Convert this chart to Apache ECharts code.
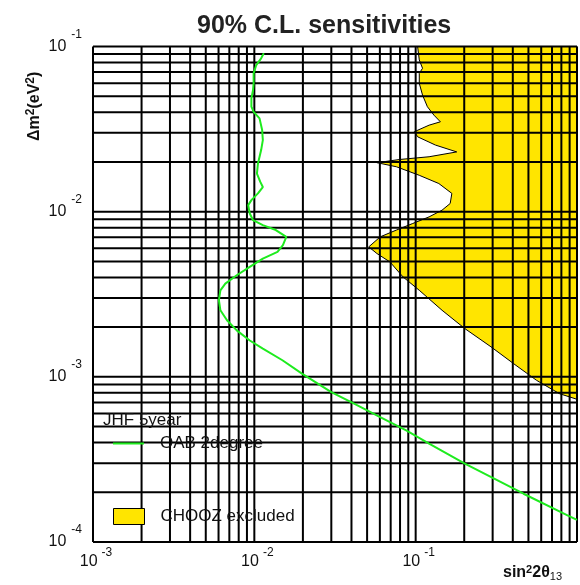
<!DOCTYPE html>
<html>
<head>
<meta charset="utf-8">
<script src="https://cdn.jsdelivr.net/npm/echarts@6/dist/echarts.min.js"></script>
<style>
  html, body { margin: 0; padding: 0; background: #fff; }
  #chart { width: 580px; height: 585px; }
</style>
</head>
<body>
<div id="chart"></div>
<script>
// JHF 5-year sensitivity, off-axis beam at 2 degrees (sin^2 2theta13 vs dm^2 in eV^2)
const jhfSin2 = [0.01145, 0.01102, 0.01028, 0.00990, 0.00990, 0.00982, 0.00959, 0.00959, 0.00990, 0.01077,
                 0.01118, 0.01129, 0.01102, 0.01053, 0.01038, 0.01087, 0.01129, 0.01053, 0.00959, 0.00916,
                 0.00937, 0.00982, 0.01129, 0.01359, 0.01578, 0.01504, 0.01392, 0.01129, 0.00937, 0.00778,
                 0.00661, 0.00616, 0.00603, 0.00616, 0.00677, 0.00778, 0.00937, 0.01129, 0.01493, 0.01973,
                 0.02999, 0.04152, 0.06026, 0.08735, 0.1211, 0.2017, 0.3067, 0.4662, 0.8734, 1.0];
const jhfDm2  = [0.0910, 0.0848, 0.0772, 0.0688, 0.0598, 0.0545, 0.0485, 0.0432, 0.0402, 0.0367,
                 0.0312, 0.0271, 0.0236, 0.0196, 0.0170, 0.0152, 0.0141, 0.0129, 0.01174, 0.01095,
                 0.00975, 0.00888, 0.00829, 0.00774, 0.00704, 0.00627, 0.00571, 0.00520, 0.00463, 0.00412,
                 0.00367, 0.00334, 0.00291, 0.00253, 0.00220, 0.00191, 0.00166, 0.00148, 0.00126, 0.001046,
                 0.000809, 0.000688, 0.000571, 0.000474, 0.000394, 0.000298, 0.000242, 0.000196, 0.000145, 0.000136];

// CHOOZ exclusion contour, from the top of the plot downwards
const choozSin2 = [0.1028, 0.1053, 0.1103, 0.1053, 0.1053, 0.1103, 0.1182, 0.1298, 0.1423, 0.1211,
                   0.0982, 0.1028, 0.1327, 0.1797, 0.1211, 0.0796, 0.0575, 0.0760, 0.1053, 0.1392,
                   0.1676, 0.1637, 0.1457, 0.1211, 0.0959, 0.0760, 0.0603, 0.0512, 0.0575, 0.0693,
                   0.0834, 0.1053, 0.1457, 0.2017, 0.2929, 0.4055, 0.5620, 0.7780, 1.0];
const choozDm2  = [0.1, 0.0829, 0.0738, 0.0688, 0.0598, 0.0508, 0.0432, 0.0384, 0.0350, 0.0334,
                   0.0305, 0.0284, 0.0253, 0.0230, 0.0215, 0.0207, 0.0198, 0.0187, 0.0166, 0.0148,
                   0.0129, 0.01121, 0.01021, 0.00930, 0.00848, 0.00774, 0.00704, 0.00612, 0.00558, 0.00496,
                   0.00403, 0.00334, 0.00253, 0.00196, 0.00152, 0.00120, 0.000952, 0.000791, 0.000731];

// Axis ranges
const sin2Range = [0.001, 1];
const dm2Range = [0.0001, 0.1];

// Grid lines at every 1..9 x 10^n
const sin2Grid = [0.001, 0.002, 0.003, 0.004, 0.005, 0.006, 0.007, 0.008, 0.009,
                  0.01, 0.02, 0.03, 0.04, 0.05, 0.06, 0.07, 0.08, 0.09,
                  0.1, 0.2, 0.3, 0.4, 0.5, 0.6, 0.7, 0.8, 0.9, 1];
const dm2Grid  = [0.0001, 0.0002, 0.0003, 0.0004, 0.0005, 0.0006, 0.0007, 0.0008, 0.0009,
                  0.001, 0.002, 0.003, 0.004, 0.005, 0.006, 0.007, 0.008, 0.009,
                  0.01, 0.02, 0.03, 0.04, 0.05, 0.06, 0.07, 0.08, 0.09, 0.1];

const FONT = 'Liberation Sans, Arial, sans-serif';
const YELLOW = '#FFE500';
const GREEN = '#1EEB1E';
const GRID_LINE = { stroke: '#000', lineWidth: 2 };

function powerLabel(v) {
  const e = Math.round(Math.log10(v));
  if (e === 0) return '';
  return '{b|10}{e|' + e + '}';
}

// one straight grid line per data item, spanning the whole plot
function verticalGridLine(params, api) {
  const x = api.value(0);
  const p0 = api.coord([x, dm2Range[0]]);
  const p1 = api.coord([x, dm2Range[1]]);
  return { type: 'line', shape: { x1: p0[0], y1: p0[1], x2: p1[0], y2: p1[1] }, style: GRID_LINE };
}
function horizontalGridLine(params, api) {
  const y = api.value(1);
  const p0 = api.coord([sin2Range[0], y]);
  const p1 = api.coord([sin2Range[1], y]);
  return { type: 'line', shape: { x1: p0[0], y1: p0[1], x2: p1[0], y2: p1[1] }, style: GRID_LINE };
}

const chart = echarts.init(document.getElementById('chart'), null, { renderer: 'canvas' });

chart.setOption({
  animation: false,
  backgroundColor: '#fff',
  textStyle: { fontFamily: FONT },
  title: [
    {
      text: '90% C.L. sensitivities',
      left: 197, top: 14, padding: 0,
      textStyle: { fontSize: 25, fontWeight: 'bold', color: '#222', fontFamily: FONT }
    },
    {
      text: 'JHF 5year',
      left: 103, top: 412, padding: 0,
      textStyle: { fontSize: 17, fontWeight: 'normal', color: '#111', fontFamily: FONT }
    }
  ],
  legend: [
    {
      data: [{ name: 'OAB 2degree', icon: 'path://M0,0 L31,0 L31,2 L0,2 Z', itemStyle: { color: GREEN } }],
      left: 113, top: 435, padding: 0,
      itemWidth: 31, itemHeight: 16,
      selectedMode: false,
      textStyle: { fontSize: 17, color: '#111', lineHeight: 16, padding: [0, 0, 0, 11], fontFamily: FONT }
    },
    {
      data: [{ name: 'CHOOZ excluded', icon: 'rect',
               itemStyle: { color: YELLOW, borderColor: '#000', borderWidth: 1 } }],
      left: 113, top: 508, padding: 0,
      itemWidth: 31, itemHeight: 16,
      selectedMode: false,
      textStyle: { fontSize: 17, color: '#111', lineHeight: 16, padding: [0, 0, 0, 11], fontFamily: FONT }
    }
  ],
  grid: { left: 93, top: 46.5, right: -8, bottom: 43, containLabel: false },
  xAxis: {
    type: 'log', logBase: 10, min: sin2Range[0], max: sin2Range[1],
    axisLine: { show: false }, axisTick: { show: false }, splitLine: { show: false },
    axisLabel: {
      margin: 4.5,
      formatter: powerLabel,
      rich: {
        b: { fontSize: 16, lineHeight: 30, color: '#111', fontFamily: FONT, padding: [0, 0, 0, 6] },
        e: { fontSize: 12, lineHeight: 10, verticalAlign: 'top', color: '#111', fontFamily: FONT, padding: [0, 0, 0, 4] }
      }
    }
  },
  yAxis: {
    type: 'log', logBase: 10, min: dm2Range[0], max: dm2Range[1],
    axisLine: { show: false }, axisTick: { show: false }, splitLine: { show: false },
    axisLabel: {
      margin: 11,
      formatter: powerLabel,
      rich: {
        b: { fontSize: 16, lineHeight: 36, color: '#111', fontFamily: FONT },
        e: { fontSize: 12, lineHeight: 10, verticalAlign: 'top', color: '#111', fontFamily: FONT, padding: [0, 0, 0, 5] }
      }
    }
  },
  graphic: [
    {
      type: 'text',
      x: 25, y: 141,
      rotation: Math.PI / 2,
      style: {
        text: '{n|\u0394m}{s|2}{n|(eV}{s|2}{n|)}',
        fill: '#111',
        rich: {
          n: { fontSize: 16, fontWeight: 'bold', lineHeight: 20, fontFamily: FONT, fill: '#111' },
          s: { fontSize: 12, fontWeight: 'bold', lineHeight: 12, verticalAlign: 'top', fontFamily: FONT, fill: '#111' }
        }
      }
    },
    {
      type: 'text',
      x: 503, y: 564,
      style: {
        text: '{n|sin}{s|2}{n|2\u03b8}{d|13}',
        fill: '#111',
        rich: {
          n: { fontSize: 16, fontWeight: 'bold', lineHeight: 18, fontFamily: FONT, fill: '#111' },
          s: { fontSize: 11, fontWeight: 'bold', lineHeight: 11, verticalAlign: 'top', fontFamily: FONT, fill: '#111' },
          d: { fontSize: 11, lineHeight: 11, verticalAlign: 'bottom', fontFamily: FONT, fill: '#111' }
        }
      }
    }
  ],
  series: [
    {
      name: 'CHOOZ excluded',
      type: 'custom',
      z: 1,
      silent: true,
      itemStyle: { color: YELLOW },
      data: choozSin2.map((x, i) => [x, choozDm2[i]]),
      encode: { x: 0, y: 1 },
      renderItem: function (params, api) {
        if (params.dataIndex !== 0) return null;
        const pts = choozSin2.map((x, i) => api.coord([x, choozDm2[i]]));
        pts.push(api.coord([sin2Range[1], dm2Range[1]]));
        return {
          type: 'polygon',
          shape: { points: pts },
          style: { fill: YELLOW, stroke: '#000', lineWidth: 1 }
        };
      }
    },
    {
      name: 'sin2 grid',
      type: 'custom',
      z: 3,
      silent: true,
      data: sin2Grid.map(v => [v, dm2Range[0]]),
      encode: { x: 0, y: 1 },
      renderItem: verticalGridLine
    },
    {
      name: 'dm2 grid',
      type: 'custom',
      z: 3,
      silent: true,
      data: dm2Grid.map(v => [sin2Range[0], v]),
      encode: { x: 0, y: 1 },
      renderItem: horizontalGridLine
    },
    {
      name: 'OAB 2degree',
      type: 'line',
      z: 8,
      silent: true,
      showSymbol: false,
      symbol: 'none',
      lineStyle: { color: GREEN, width: 2 },
      itemStyle: { color: GREEN },
      data: jhfSin2.map((x, i) => [x, jhfDm2[i]])
    }
  ]
});
</script>
</body>
</html>
